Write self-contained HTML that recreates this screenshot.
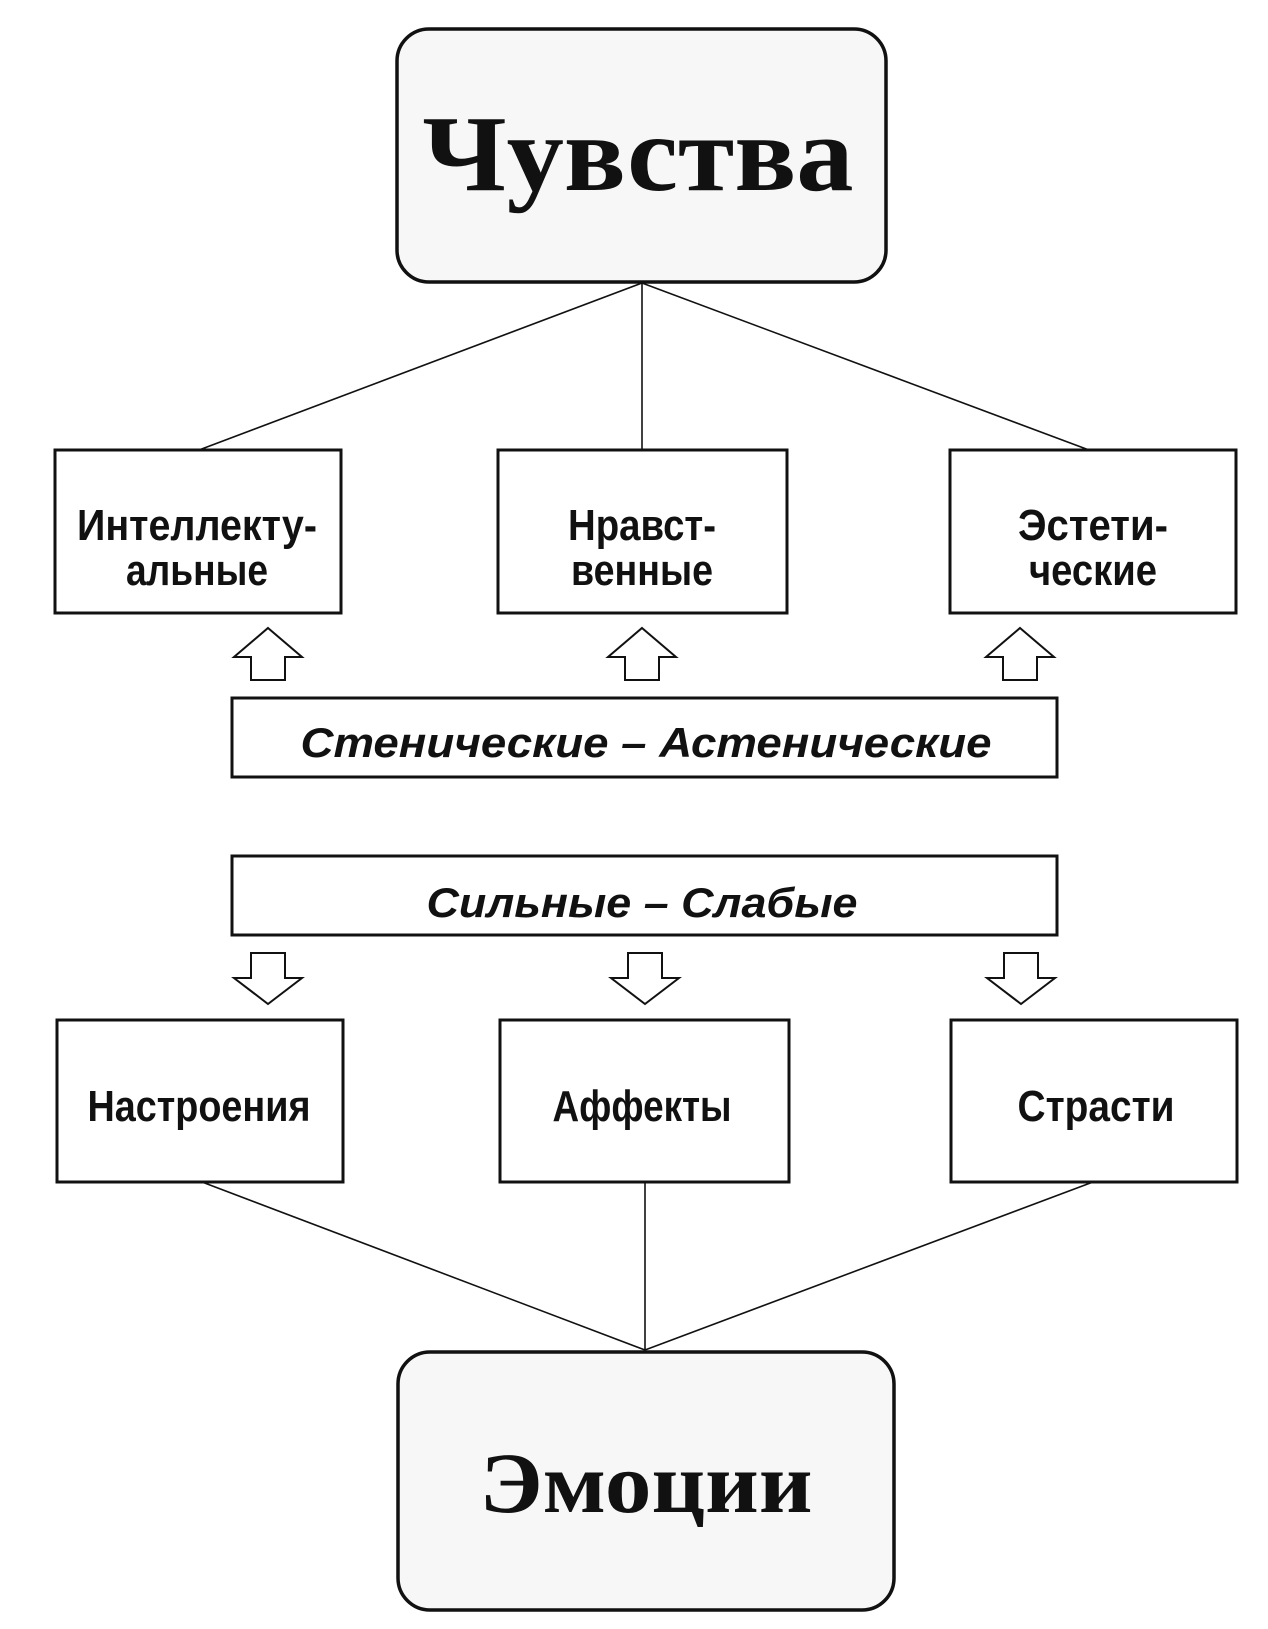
<!DOCTYPE html>
<html><head><meta charset="utf-8"><style>
html,body{margin:0;padding:0;background:#fff}
svg{display:block}
</style></head><body>
<svg width="1268" height="1629" viewBox="0 0 1268 1629" xmlns="http://www.w3.org/2000/svg">
<g fill="none" stroke="#111">
<rect x="397" y="29" width="489" height="253" rx="32" fill="#f7f7f7" stroke-width="3.5"/>
<g stroke-width="1.6">
<line x1="642" y1="283" x2="199" y2="450"/>
<line x1="642" y1="283" x2="642" y2="450"/>
<line x1="642" y1="283" x2="1089" y2="450"/>
</g>
<g stroke-width="3" fill="#fff">
<rect x="55" y="450" width="286" height="163"/>
<rect x="498" y="450" width="289" height="163"/>
<rect x="950" y="450" width="286" height="163"/>
<rect x="232" y="698" width="825" height="79"/>
<rect x="232" y="856" width="825" height="79"/>
<rect x="57" y="1020" width="286" height="162"/>
<rect x="500" y="1020" width="289" height="162"/>
<rect x="951" y="1020" width="286" height="162"/>
</g>
<g stroke-width="2" fill="#fff">
<polygon points="268,628 302,657 285,657 285,680 251,680 251,657 234,657"/>
<polygon points="642,628 676,657 659,657 659,680 625,680 625,657 608,657"/>
<polygon points="1020,628 1054,657 1037,657 1037,680 1003,680 1003,657 986,657"/>
<polygon points="268,1004 302,978 285,978 285,953 251,953 251,978 234,978"/>
<polygon points="645,1004 679,978 662,978 662,953 628,953 628,978 611,978"/>
<polygon points="1021,1004 1055,978 1038,978 1038,953 1004,953 1004,978 987,978"/>
</g>
<g stroke-width="1.6">
<line x1="202" y1="1182" x2="645" y2="1350"/>
<line x1="645" y1="1182" x2="645" y2="1350"/>
<line x1="1093" y1="1182" x2="645" y2="1350"/>
</g>
<rect x="398" y="1352" width="496" height="258" rx="32" fill="#f7f7f7" stroke-width="3.5"/>
</g>
<g fill="#111" font-family="Liberation Sans, sans-serif" font-weight="bold" text-anchor="middle">
<text x="638" y="190" font-family="Liberation Serif, serif" font-size="108" textLength="431" lengthAdjust="spacingAndGlyphs">Чувства</text>
<text x="197" y="540" font-size="44" textLength="240" lengthAdjust="spacingAndGlyphs">Интеллекту-</text>
<text x="197" y="585" font-size="44" textLength="142" lengthAdjust="spacingAndGlyphs">альные</text>
<text x="642" y="540" font-size="44" textLength="148" lengthAdjust="spacingAndGlyphs">Нравст-</text>
<text x="642" y="585" font-size="44" textLength="142" lengthAdjust="spacingAndGlyphs">венные</text>
<text x="1093" y="540" font-size="44" textLength="150" lengthAdjust="spacingAndGlyphs">Эстети-</text>
<text x="1093" y="585" font-size="44" textLength="128" lengthAdjust="spacingAndGlyphs">ческие</text>
<text x="646" y="757" font-size="42" font-style="italic" textLength="691" lengthAdjust="spacingAndGlyphs">Стенические – Астенические</text>
<text x="642" y="917" font-size="42" font-style="italic" textLength="431" lengthAdjust="spacingAndGlyphs">Сильные – Слабые</text>
<text x="199" y="1121" font-size="44" textLength="223" lengthAdjust="spacingAndGlyphs">Настроения</text>
<text x="642" y="1121" font-size="44" textLength="179" lengthAdjust="spacingAndGlyphs">Аффекты</text>
<text x="1096" y="1121" font-size="44" textLength="157" lengthAdjust="spacingAndGlyphs">Страсти</text>
<text x="646" y="1512" font-family="Liberation Serif, serif" font-size="86" textLength="333" lengthAdjust="spacingAndGlyphs">Эмоции</text>
</g>
</svg>
</body></html>
